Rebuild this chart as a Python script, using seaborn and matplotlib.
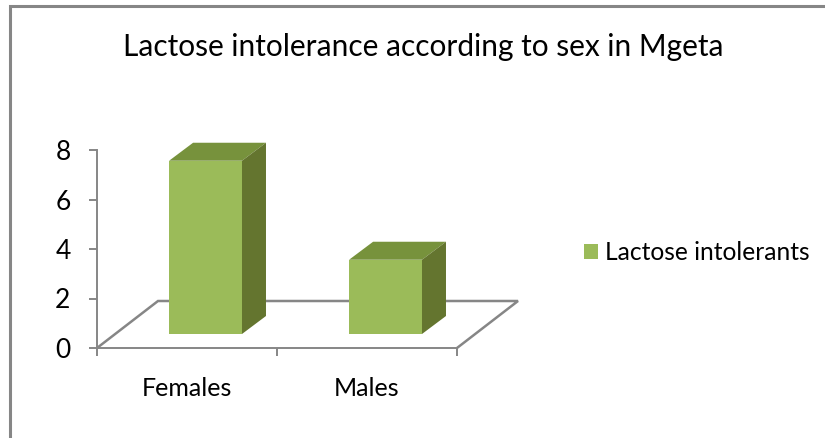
import matplotlib
matplotlib.use('Agg')
import matplotlib.pyplot as plt
from matplotlib.patches import Polygon, Rectangle
import pandas as pd
import seaborn as sns

categories = ['Females', 'Males']
values = [7, 3]
y_ticks = [0, 2, 4, 6, 8]
title = 'Lactose intolerance according to sex in Mgeta'
series_name = 'Lactose intolerants'

FRONT = '#9BBB59'
TOP = '#77923C'
SIDE = '#64752F'
GRAY = '#868686'
W, H = 825, 438

sns.set_style('white')
plt.rcParams['font.family'] = ['Lato', 'DejaVu Sans']

fig = plt.figure(figsize=(W / 100, H / 100), dpi=100)
# axes box in pixels: x 97..457, y 150..348
ax = fig.add_axes([97 / W, 1 - 348 / H, 360 / W, 198 / H])

df = pd.DataFrame({'sex': categories, 'count': values})
sns.barplot(data=df, x='sex', y='count', color=FRONT, saturation=1, width=0.405,
            bottom=0.566, label=series_name, ax=ax, zorder=3)

ax.set_xlim(-0.5, 1.5)
ax.set_ylim(0, 8)

# depth of the fake 3D, in data units
bar_dx, bar_dy = 24 / 180, 18 / 24.75
floor_dx, floor_dy = 61 / 180, 47 / 24.75

# floor outline
x0, x1 = ax.get_xlim()
floor = [(x0, 0), (x0 + floor_dx, floor_dy), (x1 + floor_dx, floor_dy), (x1, 0)]
ax.add_patch(Polygon(floor, closed=False, fill=False, edgecolor=GRAY, lw=1.8,
                     clip_on=False, zorder=1))

# top and side faces of the bars
for bar in ax.patches[:len(values)]:
    bar.set_x(bar.get_x() + 0.103)
    bar.set_linewidth(0)
    left, right = bar.get_x(), bar.get_x() + bar.get_width()
    low, high = bar.get_y(), bar.get_y() + bar.get_height()
    ax.add_patch(Polygon([(left, high), (left + bar_dx, high + bar_dy),
                          (right + bar_dx, high + bar_dy), (right, high)],
                         facecolor=TOP, lw=0, clip_on=False, zorder=3))
    ax.add_patch(Polygon([(right, low), (right + bar_dx, low + bar_dy),
                          (right + bar_dx, high + bar_dy), (right, high)],
                         facecolor=SIDE, lw=0, clip_on=False, zorder=3))

sns.despine(ax=ax, top=True, right=True)
for side in ['left', 'bottom']:
    ax.spines[side].set_color(GRAY)
    ax.spines[side].set_linewidth(1.4)

ax.set_yticks(y_ticks)
ax.set_xticks([0, 1])
ax.set_xticklabels(categories)
ax.set_xlabel('')
ax.set_ylabel('')
ax.set_xticks([-0.5, 0.5, 1.5], minor=True)
ax.tick_params(axis='y', left=True, length=6, width=1.4, color=GRAY, labelsize=19,
               pad=13, labelcolor='black')
ax.tick_params(axis='x', which='major', bottom=False, length=0, labelsize=18,
               pad=21, labelcolor='black')
ax.tick_params(axis='x', which='minor', bottom=True, length=6, width=1.4, color=GRAY)

fig.text(423 / W, 1 - 47 / H, title, fontsize=21.5, color='black', ha='center', va='center')

ax.legend(loc='center left', bbox_to_anchor=(584 / W, 1 - 253 / H),
          bbox_transform=fig.transFigure, frameon=False, fontsize=17.7,
          handlelength=0.57, handleheight=0.57, handletextpad=0.3,
          borderpad=0, borderaxespad=0, labelcolor='black')

# chart frame
fig.add_artist(Rectangle((10 / W, -0.01), 1, 1 - 6 / H + 0.01, fill=False,
                         edgecolor=GRAY, lw=2.2, transform=fig.transFigure))

fig.savefig('out.png', dpi=100)
